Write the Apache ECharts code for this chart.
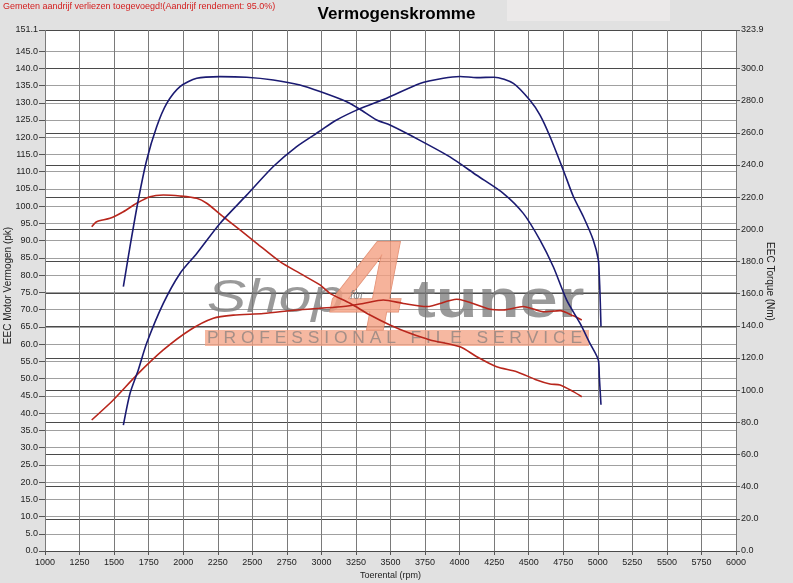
<!DOCTYPE html>
<html><head><meta charset="utf-8">
<script src="https://cdn.jsdelivr.net/npm/echarts@6/dist/echarts.min.js"></script>
<style>html,body{margin:0;padding:0;background:#e1e1e1}#c{width:793px;height:583px}</style>
</head><body><div id="c"></div>
<script>
const FF = '"Liberation Sans", Arial, sans-serif';
const chartTitle = 'Vermogenskromme';
const noteText = 'Gemeten aandrijf verliezen toegevoegd!(Aandrijf rendement: 95.0%)';
const xName = 'Toerental (rpm)';
const leftName = 'EEC Motor Vermogen (pk)';
const rightName = 'EEC Torque (Nm)';
const xMin = 1000, xMax = 6000, xStep = 250;
const leftTicks = [0,5,10,15,20,25,30,35,40,45,50,55,60,65,70,75,80,85,90,95,100,105,110,115,120,125,130,135,140,145,151.1];
const rightTicks = [0,20,40,60,80,100,120,140,160,180,200,220,240,260,280,300,323.9];

// Tuned power (pk, left axis)
const tunedPowerRpm = [1567,1615,1675,1736,1856,1977,2098,2266,2459,2652,2821,2990,3100,3279,3472,3713,3882,4003,4124,4251,4389,4509,4582,4654,4750,4823,4895,4967,5004,5011,5016,5023];
const tunedPowerPk  = [36.5,45.7,52.5,60.3,71.8,80.5,86.3,95.0,103.2,111.5,117.3,121.8,124.8,128.3,131.3,135.6,137.1,137.6,137.3,137.4,135.6,130.7,126.4,120.2,110.5,102.8,97.0,90.2,84.4,79.6,74.7,65.1];
// Tuned torque (Nm, right axis)
const tunedTorqueRpm = [1567,1615,1675,1736,1808,1881,1977,2098,2266,2459,2652,2845,2990,3183,3279,3400,3496,3713,3930,4124,4316,4461,4582,4678,4775,4871,4943,5004,5011,5023];
const tunedTorqueNm  = [164.3,189.2,218.2,243.1,263.8,278.3,288.7,293.9,294.9,294.5,292.8,289.7,285.6,279.3,274.6,267.9,264.8,255.3,245.0,233.6,222.4,209.9,193.3,176.7,156.0,141.6,129.1,118.7,108.4,90.9];
// Stock power (pk, left axis)
const stockPowerRpm = [1338,1494,1663,1856,2049,2218,2363,2580,2821,2990,3159,3303,3448,3593,3762,3979,4220,4316,4461,4606,4727,4823,4884];
const stockPowerPk  = [38.0,43.8,51.0,58.3,64.1,67.5,68.4,68.9,69.9,70.4,70.9,71.8,72.8,71.8,70.9,73.0,70.1,69.9,70.9,69.4,69.7,68.2,67.0];
// Stock torque (Nm, right axis)
const stockTorqueRpm = [1338,1374,1470,1567,1663,1760,1856,1977,2098,2170,2290,2411,2532,2700,2845,2990,3062,3207,3352,3496,3641,3786,4003,4124,4268,4413,4558,4654,4727,4823,4884];
const stockTorqueNm  = [201.6,204.7,206.8,210.9,216.2,220.3,221.3,220.7,219.3,216.2,207.8,199.6,191.3,179.9,172.6,165.4,160.2,154.0,146.7,140.5,135.3,131.2,127.0,120.8,114.5,111.5,106.3,103.8,103.2,99.1,95.9];

const zip = (a, b) => a.map((v, i) => [v, b[i]]);
const RED = '#b8261c', BLUE = '#1b1b72';

const chart = echarts.init(document.getElementById('c'), null, {renderer: 'canvas'});
const lbl = {fontSize: 9, color: '#222', fontFamily: FF};
const nameLbl = {fontSize: 10, color: '#222', fontFamily: FF};
chart.setOption({
  backgroundColor: '#e1e1e1',
  animation: false,
  title: {text: chartTitle, left: 'center', top: 1, textStyle: {fontSize: 17, fontWeight: 'bold', color: '#000', fontFamily: FF}},
  grid: {left: 45, right: 57, top: 30, bottom: 32, show: true, backgroundColor: '#fff', borderWidth: 0, containLabel: false, outerBoundsMode: 'none'},
  xAxis: {
    type: 'value', min: xMin, max: xMax, interval: xStep,
    name: xName, nameLocation: 'middle', nameGap: 20, nameMoveOverlap: false, nameTextStyle: lbl,
    axisLine: {show: false},
    axisTick: {show: true, length: 4, lineStyle: {color: '#555'}},
    axisLabel: Object.assign({margin: 7, showMinLabel: true, showMaxLabel: true, formatter: v => String(v)}, lbl),
    splitLine: {lineStyle: {color: '#7a7a7a', width: 1}}
  },
  yAxis: [{
    type: 'value', min: 0, max: 151.1, interval: 5, position: 'left',
    name: leftName, nameLocation: 'middle', nameGap: 32, nameMoveOverlap: false,
    nameTextStyle: Object.assign({padding: [0, 0, 0, 10]}, nameLbl),
    axisLine: {show: false},
    axisTick: {show: true, length: 6, customValues: leftTicks, lineStyle: {color: '#555'}},
    axisLabel: Object.assign({margin: 7, customValues: leftTicks, formatter: v => v.toFixed(1)}, lbl),
    splitLine: {lineStyle: {color: '#a0a0a0', width: 1}}
  }, {
    type: 'value', min: 0, max: 323.9, interval: 20, position: 'right',
    name: rightName, nameLocation: 'middle', nameGap: 29, nameRotate: -90, nameMoveOverlap: false,
    nameTextStyle: Object.assign({padding: [0, 18, 0, 0]}, nameLbl),
    axisLine: {show: false},
    axisTick: {show: true, length: 4, customValues: rightTicks, lineStyle: {color: '#555'}},
    axisLabel: Object.assign({margin: 5, customValues: rightTicks, formatter: v => v.toFixed(1)}, lbl),
    splitLine: {lineStyle: {color: '#4a4a4a', width: 1}}
  }],
  graphic: [
    {type: 'rect', z: -1, shape: {x: 507, y: 0, width: 163, height: 21}, style: {fill: '#ebe9e9'}},
    {type: 'text', z: 5, style: {x: 3, y: 2, text: noteText, font: '9px ' + FF, fill: '#d42020'}},
    // watermark
    {type: 'rect', z: 1, shape: {x: 205, y: 330, width: 384, height: 16}, style: {fill: 'rgba(243,160,130,0.75)'}},
    {type: 'text', z: 1, x: 207, y: 0, scaleX: 1.09, style: {x: 0, y: 338.5, verticalAlign: 'middle', text: 'P R O F E S S I O N A L   F I L E   S E R V I C E', font: '16px ' + FF, fill: 'rgba(150,135,130,0.85)'}},
    {type: 'text', z: 1, x: 207, y: 0, scaleX: 1.25, style: {x: 0, y: 299, verticalAlign: 'middle', text: 'Shop', font: 'italic 47px ' + FF, fill: 'rgba(120,120,120,0.75)'}},
    {type: 'text', z: 1, style: {x: 332, y: 295, verticalAlign: 'middle', text: '4', font: 'italic bold 128px ' + FF, fill: 'rgba(244,160,130,0.8)', stroke: 'rgba(215,120,90,0.8)', lineWidth: 1}},
    {type: 'text', z: 1, style: {x: 350, y: 296, verticalAlign: 'middle', text: 'for', font: 'italic 12px ' + FF, fill: 'rgba(120,120,120,0.8)'}},
    {type: 'text', z: 1, x: 413, y: 0, scaleX: 1.27, style: {x: 0, y: 302, verticalAlign: 'middle', text: 'tuner', font: 'bold 54px ' + FF, fill: 'rgba(120,120,120,0.75)'}}
  ],
  series: [
    {type: 'line', name: 'stockTorque', yAxisIndex: 1, data: zip(stockTorqueRpm, stockTorqueNm), showSymbol: false, smooth: 0.25, lineStyle: {color: RED, width: 1.6}, z: 3},
    {type: 'line', name: 'stockPower', yAxisIndex: 0, data: zip(stockPowerRpm, stockPowerPk), showSymbol: false, smooth: 0.25, lineStyle: {color: RED, width: 1.6}, z: 3},
    {type: 'line', name: 'tunedTorque', yAxisIndex: 1, data: zip(tunedTorqueRpm, tunedTorqueNm), showSymbol: false, smooth: 0.25, lineStyle: {color: BLUE, width: 1.6}, z: 3},
    {type: 'line', name: 'tunedPower', yAxisIndex: 0, data: zip(tunedPowerRpm, tunedPowerPk), showSymbol: false, smooth: 0.25, lineStyle: {color: BLUE, width: 1.6}, z: 3}
  ]
});
</script></body></html>
